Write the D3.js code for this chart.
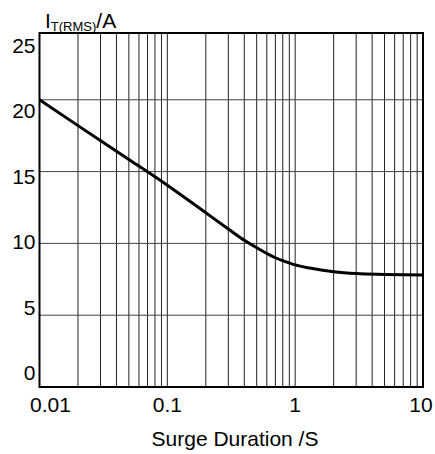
<!DOCTYPE html>
<html>
<head>
<meta charset="utf-8">
<script src="https://cdn.jsdelivr.net/npm/d3@7"></script>
<style>
  body { margin: 0; background: #fff; }
  text { font-family: "Liberation Sans", Arial, sans-serif; fill: #000; }
</style>
</head>
<body>
<div class="canvas"></div>
<script>
// data
const durations = [0.01, 0.02, 0.05, 0.1, 0.2, 0.3, 0.4, 0.5, 0.6, 0.7, 0.8, 1, 1.3, 2, 3, 5, 10];
const current = [20.0, 18.2, 15.85, 14.05, 12.13, 11.0, 10.22, 9.7, 9.3, 9.0, 8.8, 8.5, 8.28, 8.03, 7.9, 7.84, 7.8];

const xTicks = [0.01, 0.1, 1, 10];
const xTickLabels = ['0.01', '0.1', '1', '10'];
const yTicks = [0, 5, 10, 15, 20, 25];
const yGrid = [5, 10, 15, 20];

const svg = d3.select('.canvas')
    .append('svg')
    .attr('width', 435)
    .attr('height', 454);

const margin = {top: 33, right: 12, bottom: 67, left: 39.5};
const graphWidth = 435 - margin.left - margin.right;
const graphHeight = 454 - margin.top - margin.bottom;

const graph = svg.append('g')
    .attr('transform', `translate(${margin.left},${margin.top})`);

const x = d3.scaleLog()
    .domain([0.01, 10])
    .range([0, graphWidth]);

const y = d3.scaleLinear()
    .domain([0, 24.65])
    .range([graphHeight, 0]);

// labels on the sheet don't sit exactly on the grid lines
const yLabel = d3.scaleLinear()
    .domain([0, 25])
    .range([380 - margin.top, 53 - margin.top]);

// vertical grid: every 1..9 in each decade
const minor = [];
[0.01, 0.1, 1].forEach(dec => {
    for (let i = 1; i < 10; i++) minor.push(dec * i);
});

graph.selectAll('line.vgrid')
    .data(minor)
    .enter().append('line')
    .attr('class', 'vgrid')
    .attr('x1', d => x(d)).attr('x2', d => x(d))
    .attr('y1', 0).attr('y2', graphHeight)
    .attr('stroke', '#222')
    .attr('stroke-width', 1);

graph.selectAll('line.hgrid')
    .data(yGrid)
    .enter().append('line')
    .attr('class', 'hgrid')
    .attr('x1', 0).attr('x2', graphWidth)
    .attr('y1', d => y(d)).attr('y2', d => y(d))
    .attr('stroke', '#444')
    .attr('stroke-width', 1);

// frame
graph.append('rect')
    .attr('width', graphWidth)
    .attr('height', graphHeight)
    .attr('fill', 'none')
    .attr('stroke', '#000')
    .attr('stroke-width', 2);

// curve
const line = d3.line()
    .x((d, i) => x(durations[i]))
    .y(d => y(d))
    .curve(d3.curveMonotoneX);

graph.append('path')
    .datum(current)
    .attr('d', line)
    .attr('fill', 'none')
    .attr('stroke', '#000')
    .attr('stroke-width', 3);

// tick labels
graph.selectAll('text.ylab')
    .data(yTicks)
    .enter().append('text')
    .attr('class', 'ylab')
    .attr('x', -4)
    .attr('y', d => yLabel(d))
    .attr('text-anchor', 'end')
    .style('font-size', '21px')
    .text(d => d);

graph.selectAll('text.xlab')
    .data(xTicks)
    .enter().append('text')
    .attr('class', 'xlab')
    .attr('x', (d, i) => x(d) + (i === 0 ? 11 : (i === xTicks.length - 1 ? -2 : 0)))
    .attr('y', graphHeight + 24.5)
    .attr('text-anchor', 'middle')
    .style('font-size', '21px')
    .text((d, i) => xTickLabels[i]);

// axis titles
svg.append('text')
    .attr('x', 235)
    .attr('y', 446)
    .attr('text-anchor', 'middle')
    .style('font-size', '21px')
    .text('Surge Duration /S');

const yt = svg.append('text')
    .attr('x', 45)
    .attr('y', 28)
    .style('font-size', '21px');
yt.append('tspan').text('I');
yt.append('tspan').attr('dy', 3).style('font-size', '13px').text('T(RMS)');
yt.append('tspan').attr('dy', -3).text('/A');
</script>
</body>
</html>
